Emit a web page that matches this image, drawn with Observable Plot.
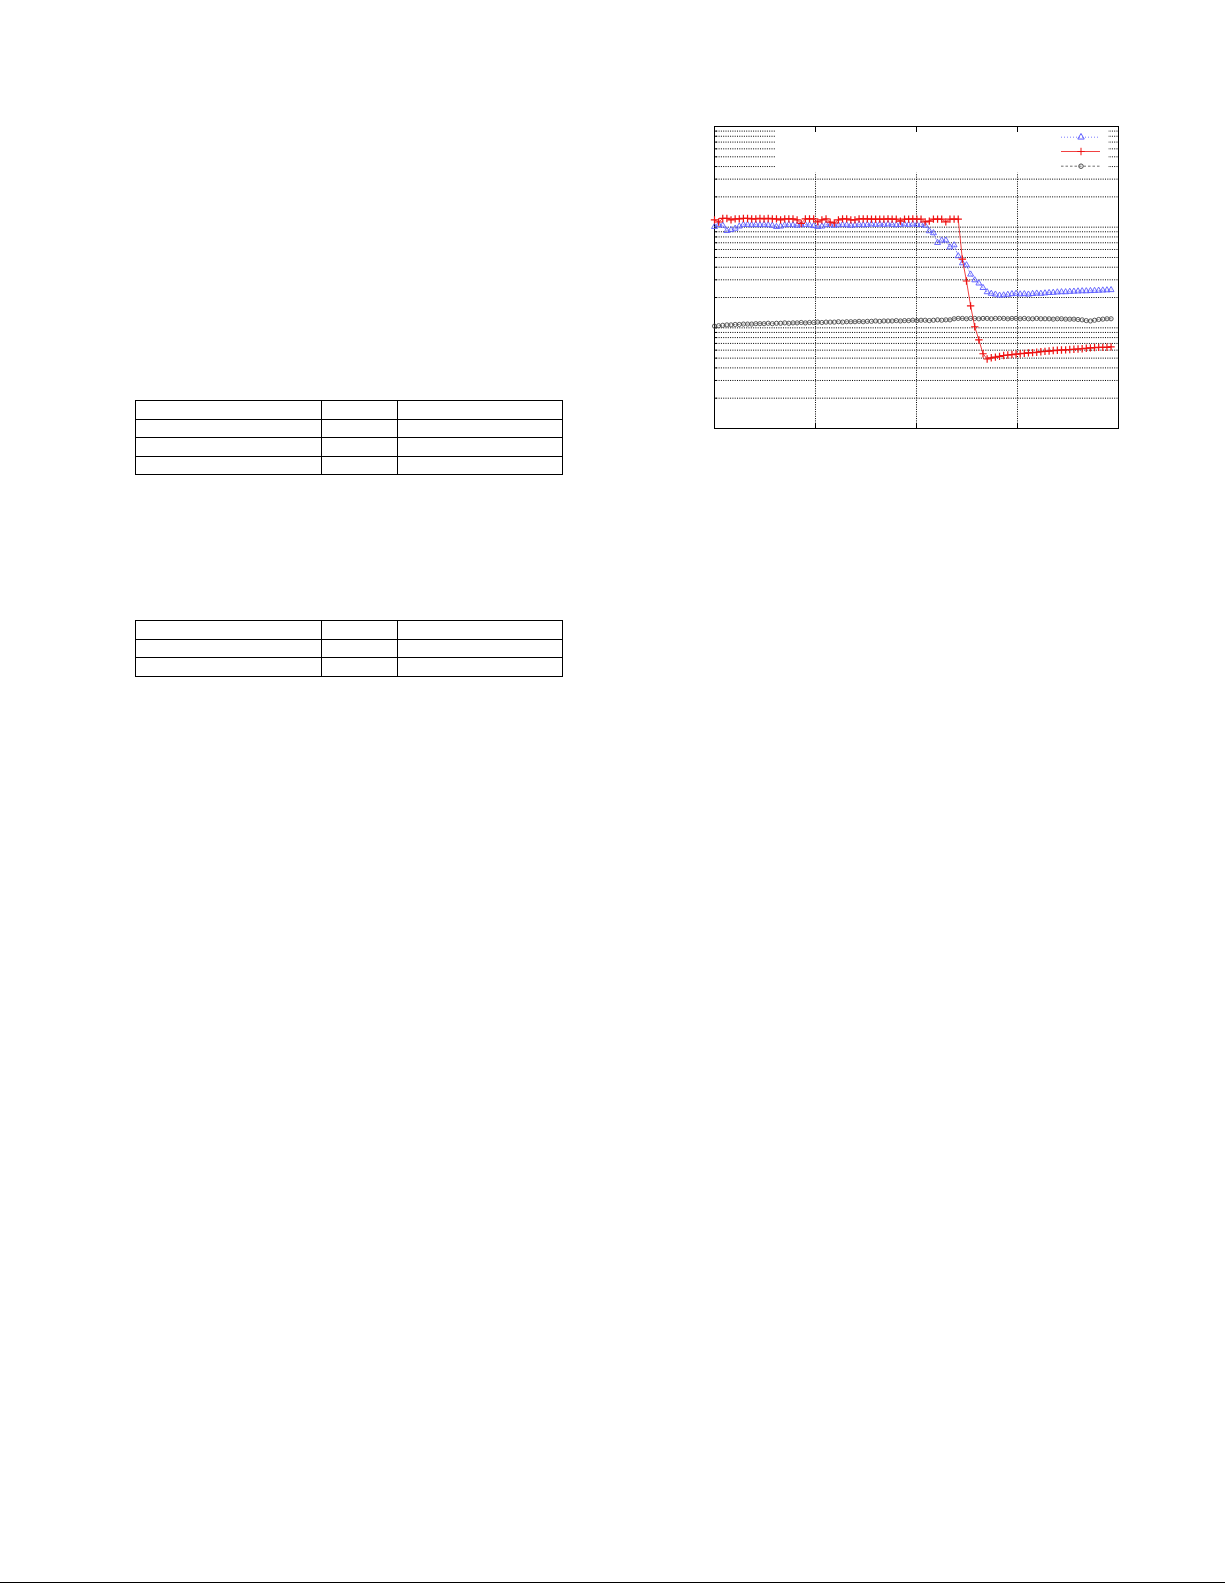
<!DOCTYPE html>
<html>
<head>
<meta charset="utf-8">
<script src="https://cdn.jsdelivr.net/npm/d3@7"></script>
<script src="https://cdn.jsdelivr.net/npm/@observablehq/plot@0.6"></script>
<style>
  html, body { margin: 0; padding: 0; background: #fff; }
  body { width: 1225px; height: 1585px; position: relative; overflow: hidden; font-family: "Liberation Sans", Arial, sans-serif; }
  table.blank { position: absolute; border-collapse: collapse; table-layout: fixed; }
  table.blank td { border: 1px solid #000; padding: 0; height: 17.6px; }
  #chart { position: absolute; left: 694px; top: 115.5px; }
  #footer { position: absolute; left: 0; top: 1582px; width: 1225px; height: 0; border-top: 1.5px solid #000; }
</style>
</head>
<body>
<div id="tables"></div>
<div id="chart"></div>
<div id="footer"></div>
<script>
// ---------------- data ----------------
const sampleStep = 4.09;                  // spacing between samples on x
const xGrid = [100, 200, 300];
const yGrid = [2,3,4,5,6,7,8,9,10,20,30,40,50,60,70,80,90,100,200,300,400,500,600,700,800,900];

const blueValues = [
  101, 106, 104, 92, 94, 97, 102, 106, 106, 105,
  106, 105, 106, 105, 104, 101, 102, 105, 106, 105,
  104, 105, 106, 105, 103, 101, 102, 106, 105, 104,
  105, 106, 105, 104, 105, 106, 105, 106, 107, 106,
  107, 106, 107, 106, 105, 106, 107, 106, 107, 106,
  106, 104, 91.6, 87.5, 70, 74, 74, 63.3, 66.3, 51.7,
  44, 42, 34, 29.8, 27.7, 25, 22.7, 21.9, 21.5, 21.0,
  21.1, 21.4, 21.7, 21.9, 21.6, 21.7, 21.5, 21.8, 22.0, 21.9,
  22.1, 22.3, 22.4, 22.6, 22.7, 22.7, 22.9, 23.0, 23.1, 23.2,
  23.2, 23.3, 23.4, 23.5, 23.6, 23.7, 23.8
];
const redValues = [
  118, 112.5, 122, 122, 118, 121, 121, 122, 122, 121,
  121, 122, 121, 122, 121, 121, 118, 121, 121, 121,
  118, 109, 121, 121, 121, 113, 118, 121, 112, 110,
  118, 121, 121, 118, 118, 121, 121, 121, 120, 120,
  120, 120, 121, 120, 120, 115, 120, 120, 121, 120,
  120, 113, 115, 120, 120, 120, 113, 120, 120, 120,
  48.1, 29.2, 16.5, 10.25, 7.6, 5.53, 4.9, 5.04, 5.12, 5.21,
  5.31, 5.37, 5.43, 5.49, 5.53, 5.58, 5.64, 5.68, 5.72, 5.79,
  5.84, 5.88, 5.95, 5.99, 6.02, 6.05, 6.09, 6.13, 6.16, 6.2,
  6.27, 6.33, 6.37, 6.39, 6.4, 6.41, 6.47
];
const grayValues = [
  10.4, 10.5, 10.6, 10.7, 10.7, 10.8, 10.8, 10.9, 10.9, 10.9,
  11.0, 11.0, 11.0, 11.1, 11.0, 11.1, 11.1, 11.2, 11.1, 11.2,
  11.2, 11.3, 11.2, 11.3, 11.3, 11.4, 11.3, 11.4, 11.4, 11.4,
  11.5, 11.4, 11.5, 11.5, 11.5, 11.6, 11.5, 11.6, 11.6, 11.7,
  11.6, 11.7, 11.7, 11.7, 11.8, 11.7, 11.8, 11.8, 11.9, 11.8,
  11.9, 11.9, 11.8, 11.9, 12.0, 11.9, 12.0, 12.0, 12.3, 12.4,
  12.4, 12.3, 12.4, 12.4, 12.3, 12.4, 12.4, 12.3, 12.4, 12.4,
  12.4, 12.3, 12.4, 12.4, 12.3, 12.4, 12.3, 12.3, 12.4, 12.3,
  12.3, 12.3, 12.2, 12.3, 12.3, 12.2, 12.2, 12.2, 12.1, 12.0,
  11.8, 11.7, 11.9, 12.1, 12.2, 12.3, 12.3
];

// blank tables on the left of the page (rows x columns)
const tableSpecs = [
  { left: 135, top: 400, rows: 4 },
  { left: 135, top: 620, rows: 3 }
];
const tableColumnWidths = [186, 76, 165];

// ---------------- tables ----------------
const tablesDiv = d3.select("#tables");
for (const spec of tableSpecs) {
  const t = tablesDiv.append("table").attr("class", "blank")
    .style("left", spec.left + "px").style("top", spec.top + "px")
    .style("width", d3.sum(tableColumnWidths) + "px");
  const cg = t.append("colgroup");
  tableColumnWidths.forEach(w => cg.append("col").style("width", w + "px"));
  for (let r = 0; r < spec.rows; r++) {
    const tr = t.append("tr");
    tableColumnWidths.forEach(() => tr.append("td"));
  }
}

// ---------------- chart ----------------
const toRows = (vals, name) => vals.map((v, i) => ({ x: i * sampleStep, y: v, series: name }));
const blue = toRows(blueValues, "blue");
const red = toRows(redValues, "red");
const gray = toRows(grayValues, "gray");

const BLUE = "#5a5aff", RED = "#ee1111", GRAY = "#4a4a4a";
const dots = "1,1.3";

function legendMark(index, scales, values, dim) {
  const g = d3.create("svg:g");
  const x0 = dim.marginLeft, x1 = dim.width - dim.marginRight, y0 = dim.marginTop;
  g.append("rect")
    .attr("x", x0 + 62).attr("y", y0 + 0.8)
    .attr("width", (x1 - 10) - (x0 + 62)).attr("height", 46)
    .attr("fill", "white");
  const entries = [
    { dy: 11.2, color: BLUE, dash: "1,2", sym: d3.symbolTriangle, size: 18 },
    { dy: 25.5, color: RED, dash: null, sym: d3.symbolPlus || d3.symbolCross, size: 20 },
    { dy: 40.2, color: GRAY, dash: "2.5,2", sym: d3.symbolCircle, size: 16 }
  ];
  for (const e of entries) {
    const yy = y0 + e.dy;
    g.append("line")
      .attr("x1", x1 - 57).attr("x2", x1 - 18).attr("y1", yy).attr("y2", yy)
      .attr("stroke", e.color).attr("stroke-width", 0.8)
      .attr("stroke-dasharray", e.dash);
    g.append("path")
      .attr("d", d3.symbol().type(e.sym).size(e.size)())
      .attr("transform", `translate(${x1 - 37},${yy})`)
      .attr("fill", "none").attr("stroke", e.color).attr("stroke-width", 1);
  }
  return g.node();
}

const noText = () => "";

const chart = Plot.plot({
  width: 444,
  height: 332,
  marginLeft: 20,
  marginRight: 20,
  marginTop: 10,
  marginBottom: 20,
  style: { background: "transparent", overflow: "visible" },
  x: { domain: [0, 400], axis: null },
  y: { type: "log", domain: [1, 1000], axis: null },
  marks: [
    Plot.ruleY(yGrid, { stroke: "#000", strokeWidth: 1, strokeDasharray: dots }),
    Plot.ruleX(xGrid, { stroke: "#000", strokeWidth: 1, strokeDasharray: dots }),
    legendMark,
    Plot.axisY({ ticks: yGrid, anchor: "left", tickSize: -3, tickFormat: noText, label: null, stroke: "#000" }),
    Plot.axisX({ ticks: xGrid, anchor: "top", tickSize: -5, tickFormat: noText, label: null, stroke: "#000" }),
    Plot.axisX({ ticks: xGrid, anchor: "bottom", tickSize: -5, tickFormat: noText, label: null, stroke: "#000" }),
    Plot.frame({ stroke: "#000", strokeWidth: 1 }),
    Plot.line(gray, { x: "x", y: "y", stroke: GRAY, strokeWidth: 0.7, strokeDasharray: "2.5,2" }),
    Plot.dot(gray, { x: "x", y: "y", r: 2.1, stroke: GRAY, fill: "none", strokeWidth: 0.9 }),
    Plot.line(blue, { x: "x", y: "y", stroke: BLUE, strokeWidth: 0.7, strokeDasharray: "1,2" }),
    Plot.dot(blue, { x: "x", y: "y", symbol: "triangle", r: 2.2, stroke: BLUE, fill: "none", strokeWidth: 0.9 }),
    Plot.line(red, { x: "x", y: "y", stroke: RED, strokeWidth: 0.8 }),
    Plot.dot(red, { x: "x", y: "y", symbol: "plus", r: 2.5, stroke: RED, fill: "none", strokeWidth: 1.2 })
  ]
});
document.getElementById("chart").appendChild(chart);
</script>
</body>
</html>
